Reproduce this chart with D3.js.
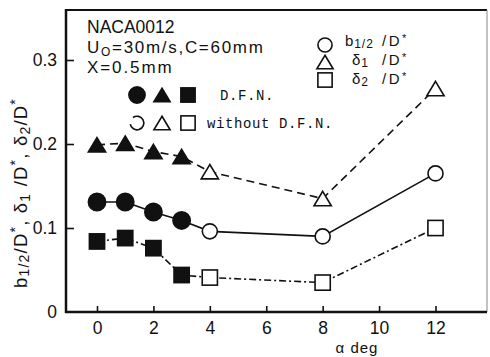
<!DOCTYPE html>
<html>
<head>
<meta charset="utf-8">
<script src="https://cdn.jsdelivr.net/npm/d3@7"></script>
<style>
  html, body { margin: 0; padding: 0; background: #fff; }
  svg { display: block; }
  text { font-family: "Liberation Sans", Arial, sans-serif; fill: #111; }
  text.mono { font-family: "Liberation Mono", "DejaVu Sans Mono", monospace; }
</style>
</head>
<body>
<svg id="chart" width="490" height="357"></svg>
<script>
// Angle of attack (deg)
const alpha = [0, 1, 2, 3, 4, 8, 12];
// Normalised wake half-width b1/2/D*
const b12 = [0.131, 0.131, 0.119, 0.109, 0.096, 0.090, 0.165];
// Normalised displacement thickness delta1/D*
const delta1 = [0.199, 0.201, 0.191, 0.185, 0.167, 0.135, 0.266];
// Normalised momentum thickness delta2/D*
const delta2 = [0.084, 0.088, 0.076, 0.044, 0.041, 0.035, 0.100];
// Whether the point was measured with D.F.N. (filled) or without (open)
const withDFN = [true, true, true, true, false, false, false];
// Axis ticks
const xTicks = [0, 2, 4, 6, 8, 10, 12];
const yTicks = [0, 0.1, 0.2, 0.3];

const svg = d3.select("#chart");
const frame = { left: 66, right: 487, top: 10, bottom: 312 };

const x = d3.scaleLinear().domain([0, 12]).range([97, 435.5]);
const y = d3.scaleLinear().domain([0, 0.3]).range([312, 60]);

// Frame
svg.append("line").attr("x1", frame.left).attr("x2", frame.right)
  .attr("y1", frame.top).attr("y2", frame.top)
  .attr("stroke", "#111").attr("stroke-width", 2);
svg.append("line").attr("x1", frame.right).attr("x2", frame.right)
  .attr("y1", frame.top).attr("y2", frame.bottom)
  .attr("stroke", "#888").attr("stroke-width", 1);
svg.append("line").attr("x1", frame.left).attr("x2", frame.left)
  .attr("y1", frame.top - 1).attr("y2", frame.bottom + 1)
  .attr("stroke", "#111").attr("stroke-width", 2.5);
svg.append("line").attr("x1", frame.left - 1).attr("x2", frame.right)
  .attr("y1", frame.bottom).attr("y2", frame.bottom)
  .attr("stroke", "#111").attr("stroke-width", 2.5);

// Axes (ticks point inward)
const xAxis = svg.append("g").attr("transform", `translate(0,${frame.bottom})`)
  .call(d3.axisBottom(x).tickValues(xTicks).tickSizeInner(-6).tickSizeOuter(0).tickPadding(10));
const yAxis = svg.append("g").attr("transform", `translate(${frame.left},0)`)
  .call(d3.axisLeft(y).tickValues(yTicks).tickSizeInner(-8).tickSizeOuter(0).tickPadding(9)
    .tickFormat(d => d === 0 ? "0" : d3.format(".1f")(d)));
[xAxis, yAxis].forEach(g => {
  g.select(".domain").remove();
  g.selectAll(".tick line").attr("stroke", "#111").attr("stroke-width", 1.6);
  g.selectAll(".tick text").attr("font-size", 17.5).attr("fill", "#111")
    .style("font-family", "'Liberation Sans', Arial, sans-serif");
});
yAxis.selectAll(".tick").filter(d => d === 0).select("line").remove();

// x-axis title
svg.append("text").attr("x", 357).attr("y", 353).attr("text-anchor", "middle")
  .attr("font-size", 15).attr("letter-spacing", 1).text("α deg");

// y-axis title
const yt = svg.append("text").attr("transform", "translate(27,193) rotate(-90)")
  .attr("text-anchor", "middle").attr("font-size", 18.5).attr("letter-spacing", 1.2);
yt.append("tspan").text("b");
yt.append("tspan").attr("font-size", 14).attr("dy", 2).text("1/2");
yt.append("tspan").attr("dy", -2).text("/D");
yt.append("tspan").attr("font-size", 14).attr("dy", -7).text("*");
yt.append("tspan").attr("dy", 7).text(", δ");
yt.append("tspan").attr("font-size", 14).attr("dy", 3).text("1");
yt.append("tspan").attr("dy", -3).text(" /D");
yt.append("tspan").attr("font-size", 14).attr("dy", -7).text("*");
yt.append("tspan").attr("dy", 7).text(", δ");
yt.append("tspan").attr("font-size", 14).attr("dy", 3).text("2");
yt.append("tspan").attr("dy", -3).text("/D");
yt.append("tspan").attr("font-size", 14).attr("dy", -7).text("*");

// Marker shapes
function marker(g, shape, cx, cy, filled, s) {
  const fill = filled ? "#111" : "#fff";
  if (shape === "circle") {
    g.append("circle").attr("cx", cx).attr("cy", cy).attr("r", filled ? s * 0.54 : s * 0.47)
      .attr("fill", fill).attr("stroke", "#111").attr("stroke-width", 1.6);
  } else if (shape === "triangle") {
    const h = s * 0.9, w = s * 1.08;
    g.append("path")
      .attr("d", `M${cx},${cy - h / 2}L${cx + w / 2},${cy + h / 2}L${cx - w / 2},${cy + h / 2}Z`)
      .attr("fill", fill).attr("stroke", "#111").attr("stroke-width", 1.6)
      .attr("stroke-linejoin", "miter");
  } else {
    const a = s * 0.95;
    g.append("rect").attr("x", cx - a / 2).attr("y", cy - a / 2).attr("width", a).attr("height", a)
      .attr("fill", fill).attr("stroke", "#111").attr("stroke-width", 1.6);
  }
}

const series = [
  { values: delta1, shape: "triangle", dash: "8,5" },
  { values: b12, shape: "circle", dash: null },
  { values: delta2, shape: "square", dash: "7,3,2,3" }
];

const line = d3.line().x(d => x(d[0])).y(d => y(d[1]));
series.forEach(s => {
  const pts = alpha.map((a, i) => [a, s.values[i]]);
  svg.append("path").attr("d", line(pts)).attr("fill", "none")
    .attr("stroke", "#111").attr("stroke-width", 1.6)
    .attr("stroke-dasharray", s.dash);
});
series.forEach(s => {
  const g = svg.append("g");
  alpha.forEach((a, i) => marker(g, s.shape, x(a), y(s.values[i]), withDFN[i], 16));
});

// Annotation text
const note = svg.append("g");
note.append("text").attr("x", 87).attr("y", 33).attr("font-size", 17.5).text("NACA0012");
const u = note.append("text").attr("x", 87).attr("y", 53).attr("font-size", 17).attr("letter-spacing", 1.7);
u.append("tspan").text("U");
u.append("tspan").attr("font-size", 12).attr("dy", 3).text("O");
u.append("tspan").attr("dy", -3).text("=30m/s,C=60mm");
note.append("text").attr("x", 87).attr("y", 73).attr("font-size", 17).attr("letter-spacing", 1.9).text("X=0.5mm");

// Filled / open legend
const lg = svg.append("g");
[["circle", 137], ["triangle", 162], ["square", 188]].forEach(([sh, cx]) => {
  marker(lg, sh, cx, 95, true, 15);
  if (sh === "circle") {
    lg.append("path").attr("transform", `translate(${cx},123)`).attr("d",
      d3.arc()({ innerRadius: 6, outerRadius: 7.6, startAngle: -Math.PI * 0.2, endAngle: Math.PI * 1.45 }))
      .attr("fill", "#111");
  } else {
    marker(lg, sh, cx, 123, false, 15);
  }
});
lg.append("text").attr("class", "mono").attr("x", 220).attr("y", 100).attr("font-size", 14)
  .attr("letter-spacing", 0.6).text("D.F.N.");
lg.append("text").attr("class", "mono").attr("x", 207).attr("y", 128).attr("font-size", 14)
  .attr("letter-spacing", 0.6).text("without D.F.N.");

// Quantity legend
const ql = svg.append("g");
const qItems = [
  { shape: "circle", cy: 45, base: 46, sym: "b", sub: "1/2", sx: 345 },
  { shape: "triangle", cy: 62, base: 65, sym: "δ", sub: "1", sx: 352 },
  { shape: "square", cy: 80, base: 84, sym: "δ", sub: "2", sx: 352 }
];
qItems.forEach(q => {
  marker(ql, q.shape, 325, q.cy, false, 15);
  const t = ql.append("text").attr("x", q.sx).attr("y", q.base).attr("font-size", 15)
    .attr("letter-spacing", 0.8);
  t.append("tspan").text(q.sym);
  t.append("tspan").attr("font-size", 12).attr("letter-spacing", 1).attr("dy", 2).text(q.sub);
  t.append("tspan").attr("x", 382).attr("dy", -2).attr("letter-spacing", 2.5).text("/D");
  t.append("tspan").attr("font-size", 11).attr("dy", -4).text("*");
});
</script>
</body>
</html>
